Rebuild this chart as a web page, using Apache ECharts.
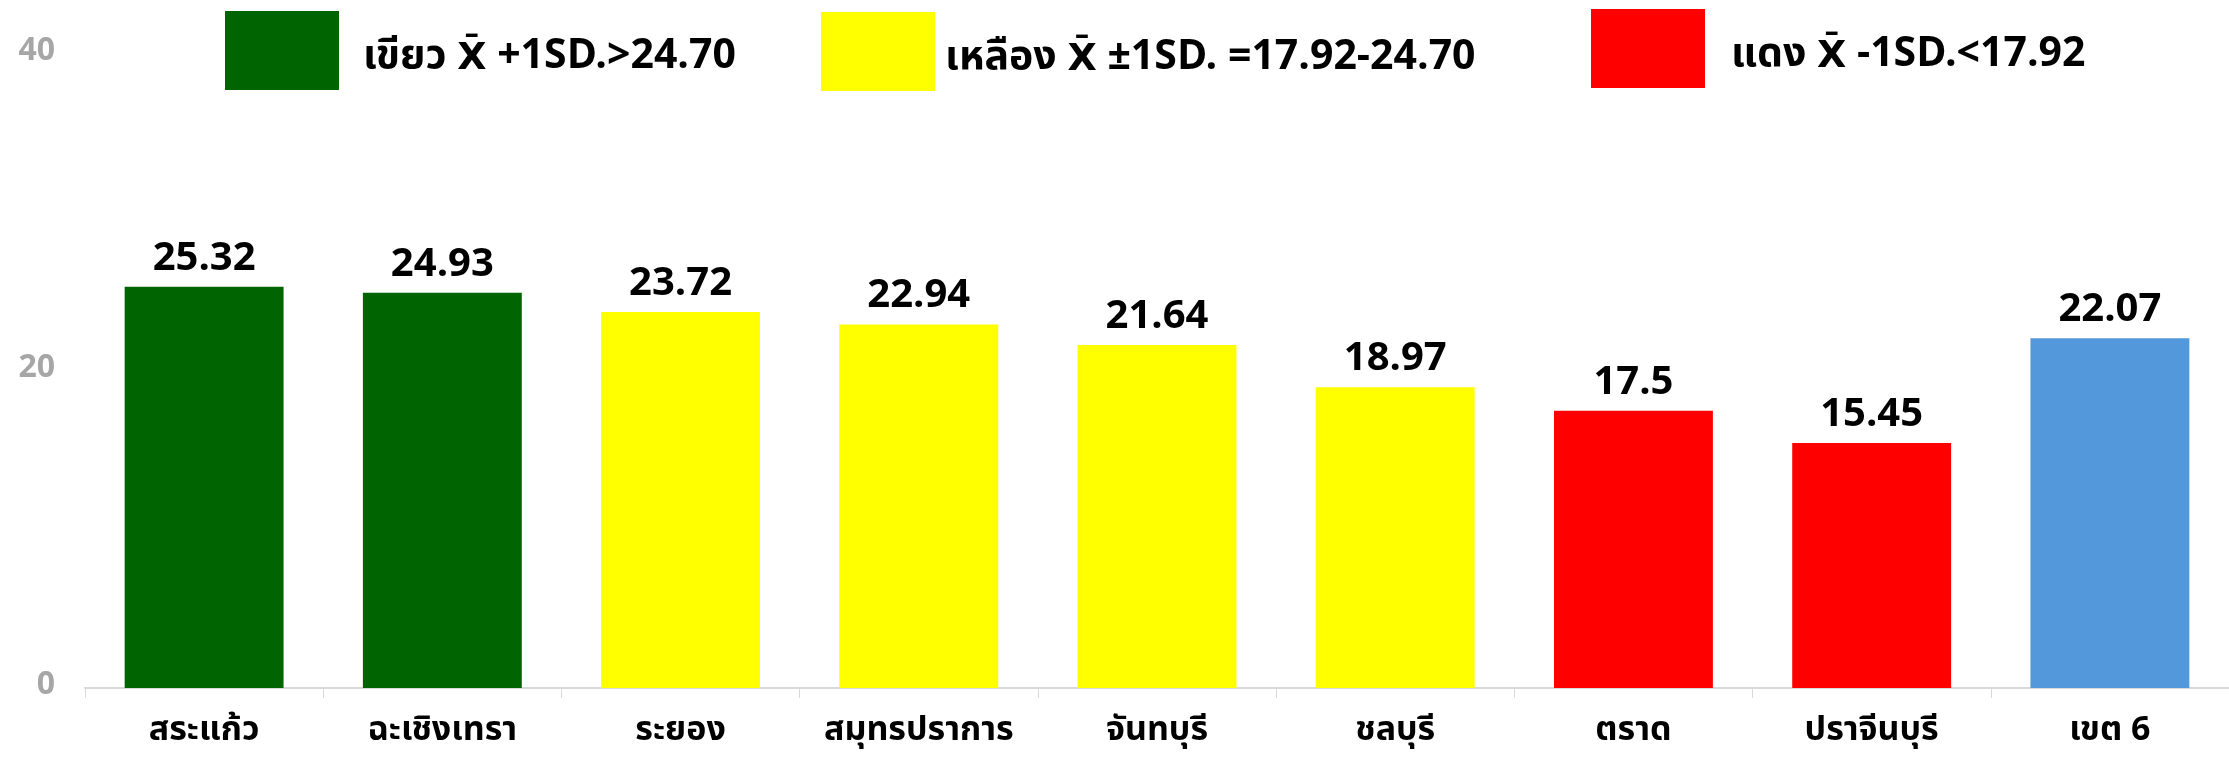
<!DOCTYPE html>
<html>
<head>
<meta charset="utf-8">
<script src="https://cdn.jsdelivr.net/npm/echarts@6/dist/echarts.min.js"></script>
<style>
html,body{margin:0;padding:0;background:#fff;}
#chart{width:2229px;height:762px;}
</style>
</head>
<body>
<div id="chart"></div>
<script>
const categories = ['สระแก้ว','ฉะเชิงเทรา','ระยอง','สมุทรปราการ','จันทบุรี','ชลบุรี','ตราด','ปราจีนบุรี','เขต 6'];
const values = [25.32, 24.93, 23.72, 22.94, 21.64, 18.97, 17.5, 15.45, 22.07];
const barGroups = ['green','green','yellow','yellow','yellow','yellow','red','red','blue'];
const groupColors = {green:'#006400', yellow:'#FFFF00', red:'#FF0000', blue:'#5398DA'};
const legendNames = ['เขียว X\u0304 +1SD.>24.70', 'เหลือง X\u0304 ±1SD. =17.92-24.70', 'แดง X\u0304 -1SD.<17.92'];
const legendGroups = ['green','yellow','red'];
const yTicks = [0, 20, 40];

const FONT = "Tahoma, 'Noto Sans Thai', 'Noto Sans', sans-serif";
const chart = echarts.init(document.getElementById('chart'), null, {renderer:'canvas'});

const legendLeft = [225, 821, 1591];
const legendTop = [11, 12, 9];
const legendPad = [19, 5, 21];

const legends = legendNames.map((n,i)=>({
  data:[n], left:legendLeft[i], top:legendTop[i], icon:'rect', padding:0,
  itemWidth:114, itemHeight:79, selectedMode:false,
  itemStyle:{opacity:1},
  formatter: function(name){
    const p = name.split('X\u0304');
    return '{t|' + p[0] + '}{x|X\u0304}{t|' + p[1] + '}';
  },
  textStyle:{
    fontFamily:FONT, fontWeight:'bold', fontSize:41, color:'#000', padding:[18,0,0,legendPad[i]],
    rich:{
      t:{fontFamily:FONT, fontWeight:'bold', fontSize:41, color:'#000'},
      x:{fontFamily:"'DejaVu Sans'", fontWeight:'bold', fontSize:38, color:'#000'}
    }
  }
}));

const legendSeries = legendNames.map((n,i)=>({
  name:n, type:'scatter', data:[], itemStyle:{color:groupColors[legendGroups[i]], opacity:1}
}));

chart.setOption({
  animation:false,
  backgroundColor:'#fff',
  legend: legends,
  grid:{left:85, right:-13, top:54, bottom:74, containLabel:false},
  xAxis:{
    type:'category', data:categories,
    axisLine:{lineStyle:{color:'#D9D9D9', width:2}},
    axisTick:{show:true, length:10, lineStyle:{color:'#D9D9D9', width:1}},
    axisLabel:{fontFamily:FONT, fontWeight:'bold', fontSize:34, color:'#000', margin:28, interval:0}
  },
  yAxis:{
    type:'value', min:yTicks[0], max:yTicks[yTicks.length-1], interval:yTicks[1]-yTicks[0],
    axisLine:{show:false}, axisTick:{show:false}, splitLine:{show:false},
    axisLabel:{fontFamily:FONT, fontWeight:'bold', fontSize:32, color:'#A6A6A6', margin:30}
  },
  series:[{
    type:'bar', barCategoryGap:'33.3%',
    data: values.map((v,i)=>({value:v, itemStyle:{color:groupColors[barGroups[i]]}})),
    label:{show:true, position:'top', distance:5, fontFamily:FONT, fontWeight:'bold', fontSize:40, color:'#000'}
  }].concat(legendSeries)
});
</script>
</body>
</html>
